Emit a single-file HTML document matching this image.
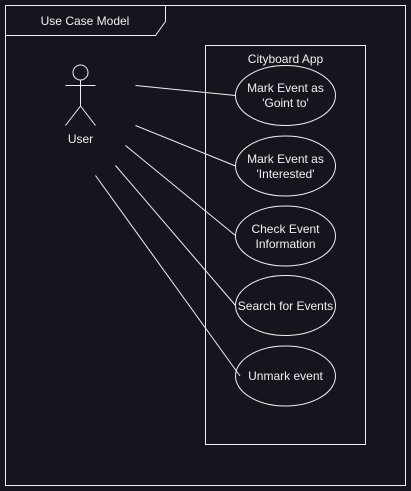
<!DOCTYPE html>
<html><head><style>
html,body{margin:0;padding:0;background:#18141d;}
svg{display:block;}
text{font-family:"Liberation Sans",sans-serif;font-size:12px;fill:#f0f0f0;}
</style></head><body>
<svg width="411" height="491" viewBox="0 0 411 491">
<rect width="411" height="491" fill="#18141d"/>
<g fill="none" stroke="#f0f0f0" stroke-width="1">
<rect x="5.5" y="5.5" width="400" height="480"/>
<path d="M5.5 35.5 H155.5 L165.5 21.5 V5.5"/>
<rect x="205.5" y="45.5" width="160" height="399"/>
<circle cx="80.5" cy="72.5" r="7.5"/>
<path d="M65.5 85.5 H95.5 M80.5 80 V106 L65.5 125.5 M80.5 106 L95.5 125.5"/>
<ellipse cx="285.5" cy="95.5" rx="50" ry="30"/>
<ellipse cx="285.5" cy="166" rx="50" ry="30"/>
<ellipse cx="285.5" cy="236" rx="50" ry="30"/>
<ellipse cx="285.5" cy="305.5" rx="50" ry="30"/>
<ellipse cx="285.5" cy="376" rx="50" ry="30"/>
<path d="M135.5 85.5 L235.5 95.5"/>
<path d="M135.5 125.5 L235.5 166"/>
<path d="M125.5 145.5 L236 236"/>
<path d="M115.5 165.5 L235.5 305.5"/>
<path d="M95.5 175.5 L240 376"/>
</g>
<text x="85" y="25" text-anchor="middle">Use Case Model</text>
<text x="80.5" y="143" text-anchor="middle">User</text>
<text x="285.5" y="63" text-anchor="middle">Cityboard App</text>
<text x="285.5" y="92" text-anchor="middle">Mark Event as</text>
<text x="285.5" y="107" text-anchor="middle">'Goint to'</text>
<text x="285.5" y="163" text-anchor="middle">Mark Event as</text>
<text x="285.5" y="178" text-anchor="middle">'Interested'</text>
<text x="285.5" y="233" text-anchor="middle">Check Event</text>
<text x="285.5" y="248" text-anchor="middle">Information</text>
<text x="285.5" y="310" text-anchor="middle">Search for Events</text>
<text x="285.5" y="380" text-anchor="middle">Unmark event</text>
</svg>
</body></html>
